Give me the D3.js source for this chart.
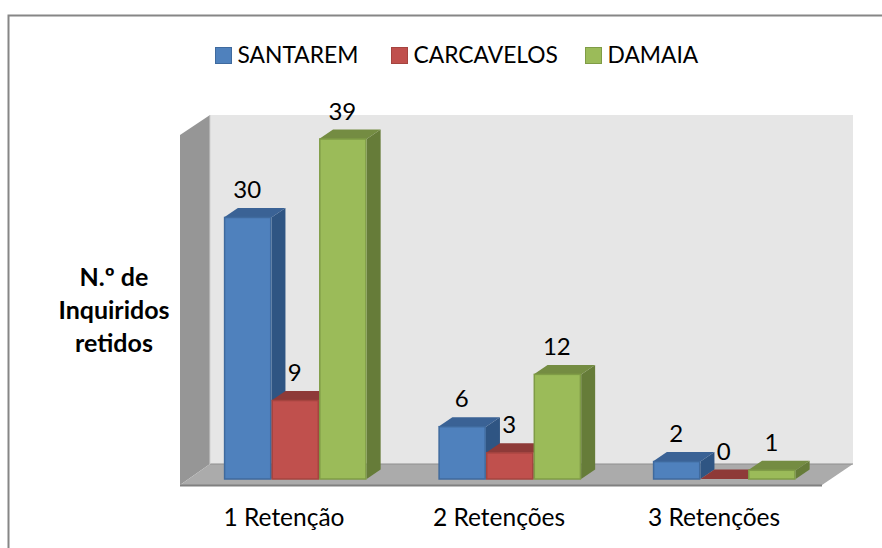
<!DOCTYPE html>
<html><head><meta charset="utf-8">
<script src="https://cdn.jsdelivr.net/npm/d3@7/dist/d3.min.js"></script>
<style>html,body{margin:0;background:#fff}svg{display:block}text{font-family:Lato,"Open Sans",sans-serif;fill:#000}</style>
</head><body><svg id="c" width="882" height="548"></svg>
<script>
const categories = ["1 Retenção","2 Retenções","3 Retenções"];
const seriesNames = ["SANTAREM","CARCAVELOS","DAMAIA"];
const santarem = [30,6,2];
const carcavelos = [9,3,0];
const damaia = [39,12,1];
const seriesValues = [santarem,carcavelos,damaia];
const yTitle = ["N.º de","Inquiridos","retidos"];
const fills = ["#4F81BD","#C0504D","#9BBB59"];
const tops = ["#3A6295","#8E3A38","#748C42"];
const sides = ["#2F5583","#7E3230","#667C39"];
const edges = ["#3F6A9E","#A5443F","#7F9C46"];

const svg = d3.select("#c");
const W=882,H=548,dx=14,dy=9.5;
const poly=(pts,fill,stroke,sw)=>svg.append("polygon").attr("points",pts.map(p=>p.join(",")).join(" ")).attr("fill",fill).attr("stroke",stroke||"none").attr("stroke-width",sw||0);

svg.append("path").attr("d",`M8.5,${H}V15.5H${W}`).attr("fill","none").attr("stroke","#868686").attr("stroke-width",2);

const y=d3.scaleLinear().domain([0,39]).range([479,139]);
const x0=d3.scaleBand().domain(categories).range([188,831.5]);
const barW=47.6;
const x1=d3.scaleBand().domain(d3.range(3)).range([0,barW*3]);
const groupX=c=>x0(c)+(x0.bandwidth()-barW*3)/2;

// walls and floor
poly([[210,115],[853,115],[853,464],[210,464]],"#E6E6E6");
poly([[180,135],[210,115],[210,464],[180,485]],"#969696");
poly([[210,464],[853,464],[822,485],[180,485]],"#ABABAB");
svg.append("line").attr("x1",180).attr("x2",822).attr("y1",485.5).attr("y2",485.5).attr("stroke","#808080").attr("stroke-width",2);
svg.append("line").attr("x1",210).attr("x2",853).attr("y1",464).attr("y2",464).attr("stroke","#8f8f8f").attr("stroke-width",1);
svg.append("line").attr("x1",210).attr("x2",210).attr("y1",115).attr("y2",464).attr("stroke","#d0d0d0").attr("stroke-width",1);

// bars, back to front, left to right
categories.forEach((c,ci)=>{
  seriesValues.forEach((vals,si)=>{
    const l=groupX(c)+x1(si),r=l+x1.bandwidth(),t=y(vals[ci]),b=y(0);
    poly([[r,t],[r+dx,t-dy],[r+dx,b-dy],[r,b]],sides[si]);
    poly([[l,t],[l+dx,t-dy],[r+dx,t-dy],[r,t]],tops[si]);
    if(vals[ci]>0) svg.append("rect").attr("x",l+.75).attr("y",t).attr("width",x1.bandwidth()-1.5).attr("height",b-t).attr("fill",fills[si]).attr("stroke",edges[si]).attr("stroke-width",1.5);
  });
});
// data labels
categories.forEach((c,ci)=>{
  seriesValues.forEach((vals,si)=>{
    svg.append("text").attr("x",groupX(c)+x1(si)+x1.bandwidth()/2-.5).attr("y",y(vals[ci])-19.5)
      .attr("text-anchor","middle").attr("font-size",24).text(vals[ci]);
  });
});
// category axis labels
const axisScale=d3.scalePoint().domain(categories).range([284,714]);
categories.forEach(c=>svg.append("text").attr("x",axisScale(c)).attr("y",526).attr("text-anchor","middle").attr("font-size",24.5).text(c));
// y title
yTitle.forEach((t,i)=>svg.append("text").attr("x",114).attr("y",286+i*33).attr("text-anchor","middle").attr("font-size",25).attr("font-weight",700).text(t));
// legend
const legX=[215,391,585];
seriesNames.forEach((n,i)=>{
  svg.append("rect").attr("x",legX[i]+.5).attr("y",47.5).attr("width",16).attr("height",16).attr("fill",fills[i]).attr("stroke",edges[i]);
  svg.append("text").attr("x",legX[i]+22.5).attr("y",63).attr("font-size",22.8).text(n);
});
</script></body></html>
